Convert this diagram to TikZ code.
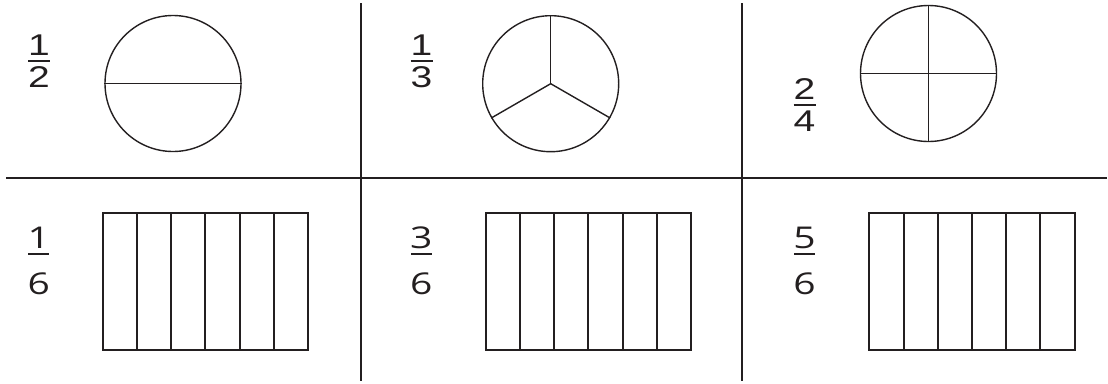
\documentclass[tikz,border=0pt]{standalone}
\usepackage{fontspec}
\newfontfamily\topfont[FakeStretch=1.3]{Liberation Sans}
\newfontfamily\botfont[FakeStretch=1.3]{Open Sans}
\definecolor{ink}{HTML}{231F20}
\begin{document}
\begin{tikzpicture}[x=1pt,y=-1pt,
  gridline/.style={draw=ink,line width=2pt},
  circ/.style={circle,draw=ink,line width=1.4pt,minimum size=136pt,inner sep=0pt},
  part/.style={draw=ink,line width=1.4pt},
  rectline/.style={draw=ink,line width=2pt},
  topdig/.style={anchor=base,inner sep=0pt,text=ink,font=\topfont\fontsize{30}{30}\selectfont},
  botdig/.style={anchor=base,inner sep=0pt,text=ink,font=\botfont\fontsize{30}{30}\selectfont},
  fbar/.style={draw=ink,line width=2.2pt}]
\useasboundingbox (0,0) rectangle (1108,383);
% grid
\coordinate (hl) at (6,178.3);
\coordinate (hr) at (1107,178.3);
\coordinate (v1t) at (361,3);
\coordinate (v1b) at (361,381);
\coordinate (v2t) at (742,3);
\coordinate (v2b) at (742,381);
\draw[gridline] (hl) -- (hr);
\draw[gridline] (v1t) -- (v1b);
\draw[gridline] (v2t) -- (v2b);
% top fractions
\node[topdig] (n1) at (39,55) {1};
\draw[fbar] (28,61) -- (50,61);
\node[topdig] (d1) at (39,87) {2};
\node[topdig] (n2) at (421.5,55) {1};
\draw[fbar] (410.5,61) -- (432.5,61);
\node[topdig] (d2) at (421.5,87) {3};
\node[topdig] (n3) at (804.5,99) {2};
\draw[fbar] (793.5,105) -- (815.5,105);
\node[topdig] (d3) at (804.5,131) {4};
% circles
\node[circ] (c1) at (173,83.5) {};
\draw[part] (c1.west) -- (c1.east);
\node[circ] (c2) at (550.7,83.7) {};
\draw[part] (c2.center) -- (c2.90);
\draw[part] (c2.center) -- (c2.210);
\draw[part] (c2.center) -- (c2.330);
\node[circ] (c3) at (928.5,73.5) {};
\draw[part] (c3.west) -- (c3.east);
\draw[part] (c3.north) -- (c3.south);
% bottom fractions
\node[botdig] (n4) at (38.7,248) {1};
\draw[fbar] (28.3,254.3) -- (49,254.3);
\node[botdig] (d4) at (38.7,294) {6};
\node[botdig] (n5) at (421.3,248) {3};
\draw[fbar] (411,254.3) -- (431.7,254.3);
\node[botdig] (d5) at (421.3,294) {6};
\node[botdig] (n6) at (804.5,248) {5};
\draw[fbar] (794,254.3) -- (815,254.3);
\node[botdig] (d6) at (804.5,294) {6};
% rectangles
\foreach \x in {102.7,485.7,869.3} {
  \draw[rectline] (\x,213.3) rectangle ++(205.2,136.7);
  \foreach \i in {1,...,5} {
    \draw[rectline] ({\x+\i*34.2},213.3) -- ++(0,136.7);
  }
}
\end{tikzpicture}
\end{document}
